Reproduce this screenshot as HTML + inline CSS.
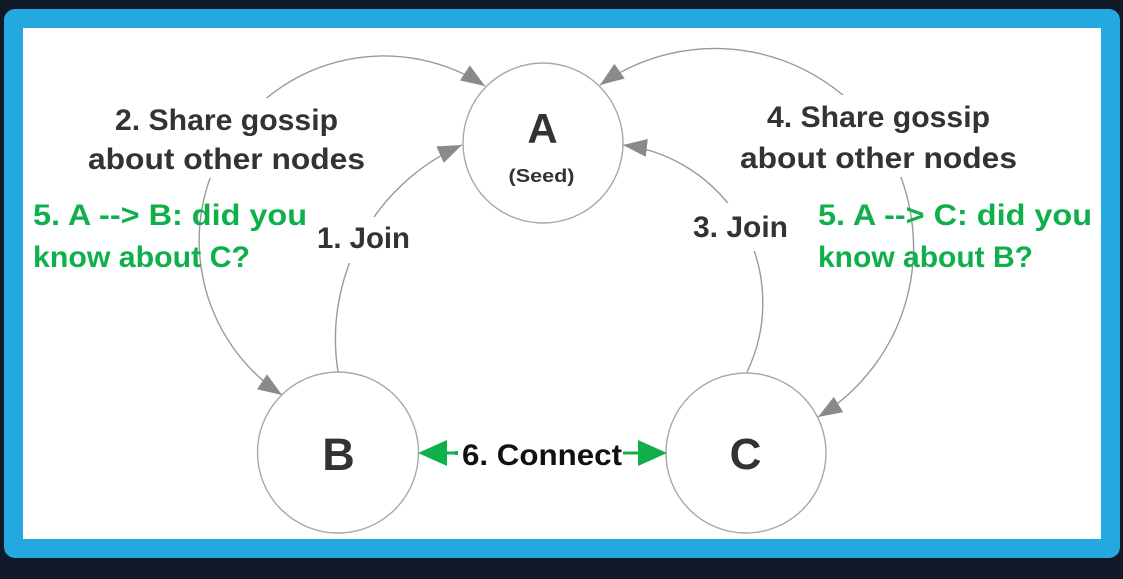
<!DOCTYPE html>
<html>
<head>
<meta charset="utf-8">
<style>
  html, body { margin:0; padding:0; background:#111827; }
  body { width:1123px; height:579px; overflow:hidden; }
  svg { display:block; }
  text { font-family:"Liberation Sans", "DejaVu Sans", sans-serif; font-weight:bold; }
</style>
</head>
<body>
<svg width="1123" height="579" viewBox="0 0 1123 579" xmlns="http://www.w3.org/2000/svg">
  <defs>
    <marker id="ag" viewBox="0 0 24 18" refX="24" refY="9" markerWidth="24" markerHeight="18" markerUnits="userSpaceOnUse" orient="auto-start-reverse">
      <path d="M0,0 L24,9 L0,18 z" fill="#8a8a8a"/>
    </marker>
  </defs>

  <rect x="0" y="0" width="1123" height="579" fill="#111827"/>
  <rect x="4" y="9" width="1116" height="549" rx="11" fill="#23a8e0"/>
  <rect x="23" y="28" width="1078" height="511" fill="#ffffff"/>

  <!-- arcs -->
  <g fill="none" stroke="#9a9a9a" stroke-width="1.4">
    <path d="M282,395 A185,185 0 0 1 229,140 A185,185 0 0 1 485,86" marker-start="url(#ag)" marker-end="url(#ag)"/>
    <path d="M338,372 A212,212 0 0 1 462,145" marker-end="url(#ag)"/>
    <path d="M600,85 A199,199 0 0 1 881,138 A199,199 0 0 1 818,417" marker-start="url(#ag)" marker-end="url(#ag)"/>
    <path d="M747,372 A159,159 0 0 0 623,145" marker-end="url(#ag)"/>
  </g>

  <!-- nodes -->
  <g fill="#ffffff" stroke="#a8a8a8" stroke-width="1.4">
    <circle cx="543" cy="143" r="80"/>
    <circle cx="338" cy="452.5" r="80.5"/>
    <circle cx="746" cy="453" r="80"/>
  </g>

  <text x="542.5" y="143" font-size="42" fill="#333" text-anchor="middle">A</text>
  <text x="541.5" y="182" font-size="18" fill="#333" text-anchor="middle" textLength="66" lengthAdjust="spacingAndGlyphs" style="font-weight:600">(Seed)</text>
  <text x="338.5" y="470" font-size="45" fill="#333" text-anchor="middle">B</text>
  <text x="745.5" y="469" font-size="44" fill="#333" text-anchor="middle">C</text>

  <!-- label backgrounds -->
  <g fill="#ffffff">
    <rect x="86" y="98" width="282" height="80"/>
    <rect x="315" y="217" width="98" height="46"/>
    <rect x="738" y="95" width="282" height="82"/>
    <rect x="690" y="203" width="108" height="48"/>
  </g>

  <!-- gray labels -->
  <g fill="#333" font-size="30">
    <text x="115" y="130" textLength="223" lengthAdjust="spacingAndGlyphs">2. Share gossip</text>
    <text x="88" y="169" textLength="277" lengthAdjust="spacingAndGlyphs">about other nodes</text>
    <text x="317" y="248" textLength="93" lengthAdjust="spacingAndGlyphs">1. Join</text>
    <text x="767" y="127" textLength="223" lengthAdjust="spacingAndGlyphs">4. Share gossip</text>
    <text x="740" y="168" textLength="277" lengthAdjust="spacingAndGlyphs">about other nodes</text>
    <text x="693" y="237" textLength="95" lengthAdjust="spacingAndGlyphs">3. Join</text>
  </g>

  <!-- green labels -->
  <g fill="#0fb04b" font-size="30">
    <text x="33" y="225" textLength="274" lengthAdjust="spacingAndGlyphs">5. A --&gt; B: did you</text>
    <text x="33" y="267" textLength="217" lengthAdjust="spacingAndGlyphs">know about C?</text>
    <text x="818" y="225" textLength="274" lengthAdjust="spacingAndGlyphs">5. A --&gt; C: did you</text>
    <text x="818" y="267" textLength="215" lengthAdjust="spacingAndGlyphs">know about B?</text>
  </g>

  <!-- connect -->
  <line x1="445" y1="453" x2="640" y2="453" stroke="#0fb04b" stroke-width="3"/>
  <polygon points="418,453 447,440 447,466" fill="#0fb04b"/>
  <polygon points="667,453 638,440 638,466" fill="#0fb04b"/>
  <rect x="457" y="436" width="166" height="34" fill="#ffffff"/>
  <rect x="455" y="451" width="3" height="4" fill="#0fb04b"/>
  <text x="462" y="465" font-size="30" fill="#111" textLength="160" lengthAdjust="spacingAndGlyphs">6. Connect</text>
</svg>
</body>
</html>
